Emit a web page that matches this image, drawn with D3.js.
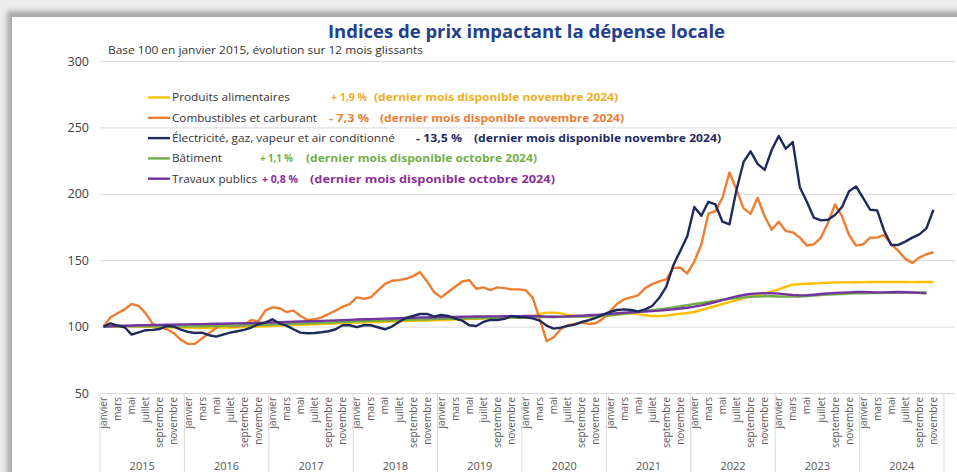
<!DOCTYPE html>
<html>
<head>
<meta charset="utf-8">
<script src="https://cdn.jsdelivr.net/npm/d3@7"></script>
<style>
    body { margin: 0; background: #e9e9e9; }
    svg { display: block; font-family: "Open Sans", sans-serif; }
</style>
</head>
<body>
<svg id="chart" width="957" height="472"></svg>
<script>
const years = [2015, 2016, 2017, 2018, 2019, 2020, 2021, 2022, 2023, 2024];
const months = ["janvier", "février", "mars", "avril", "mai", "juin", "juillet", "août", "septembre", "octobre", "novembre", "décembre"];
const yTicks = [50, 100, 150, 200, 250, 300];

// indices base 100 janvier 2015 (janv. 2015 -> nov. 2024)
const alimentaires = [
    100, 100.2, 100.4, 100.3, 100.2, 100, 99.8, 99.6, 99.5, 99.4, 99.3, 99.3,
    99.2, 99.1, 99, 99, 99.1, 99.2, 99.3, 99.5, 99.7, 99.9, 100, 100.2,
    100.5, 100.8, 101, 101.2, 101.3, 101.5, 101.7, 102, 102.2, 102.4, 102.6, 102.8,
    103, 103.2, 103.3, 103.5, 103.6, 103.8, 104, 104.1, 104.3, 104.5, 104.6, 104.8,
    105, 105.2, 105.4, 105.5, 105.7, 105.9, 106, 106.2, 106.3, 106.5, 106.6, 106.8,
    107, 107.5, 109.5, 110.5, 110.5, 110, 108.8, 108.3, 108, 107.8, 107.6, 107.5,
    108.5, 109.3, 109.7, 110, 109.5, 108.5, 108, 108, 108.3, 109, 109.7, 110.2,
    111, 112.5, 114, 115.5, 117, 118.5, 120, 121.5, 122.5, 123.5, 125, 126.5,
    128, 130, 131.5, 132, 132.3, 132.5, 132.7, 133, 133.2, 133.3, 133.3, 133.4,
    133.5, 133.6, 133.6, 133.7, 133.6, 133.7, 133.6, 133.5, 133.6, 133.6, 133.7
];
const combustibles = [
    100, 107, 110, 113, 117, 115.5, 110, 102, 99.5, 98, 95, 90,
    87, 87, 91, 95, 99, 102, 100, 100, 101, 105, 104, 112,
    114.5, 114, 111, 112, 108, 105, 105.5, 107, 109.5, 112, 115, 117,
    122, 121, 122, 127, 132, 134.5, 135, 136, 138, 141, 134, 126,
    122, 126, 130, 134, 135, 128.5, 129.5, 127.5, 129.5, 129, 128, 128,
    127.5, 122, 106, 89, 92, 98, 101, 102, 103, 102, 102.5, 106,
    111.5, 117, 120.5, 122, 123.5, 129, 132, 134, 135.5, 144, 144.5, 140,
    149, 162, 185, 187, 197, 216, 203, 189, 185, 197, 183, 173,
    179, 172, 171, 167, 161, 162, 167, 178, 192, 183, 169, 161,
    162, 167, 167, 169, 162, 157, 151, 148, 152, 154.5, 156
];
const electricite = [
    100, 102.5, 100.8, 99.5, 94, 95.7, 97.3, 97.5, 98.2, 100.5, 100, 97.8,
    96, 95.2, 95.5, 93.5, 92.5, 94, 95.5, 96.5, 97.5, 99.3, 101.8, 103,
    105.5, 102.5, 100.7, 98, 95.5, 95, 95.2, 95.7, 96.5, 98, 101, 101,
    99.6, 101, 101, 99.5, 98, 100, 103.5, 106.5, 108, 109.5, 109.5, 107.5,
    108.8, 108, 106, 104.5, 101, 100.5, 103.5, 105, 105, 105.8, 108, 107,
    107, 106.2, 104.5, 100.8, 98.5, 99.2, 100.5, 101.5, 103.5, 104.8, 106.5, 109,
    111, 112.5, 113, 112.5, 111.5, 113, 115.5, 121.5, 130, 146, 157, 168,
    190, 183.5, 194, 192, 179, 177, 203, 224, 232, 222.5, 218, 233,
    243.5, 234, 239, 205, 194, 182, 180, 180.5, 184, 190, 202, 205.5,
    197, 188, 187.5, 172, 161.5, 161.5, 164, 167, 169.5, 174, 188
];
// janv. 2015 -> oct. 2024
const batiment = [
    100, 100.1, 100.2, 100.2, 100.2, 100.2, 100.2, 100.2, 100.2, 100.2, 100.2, 100.2,
    100.2, 100.2, 100.3, 100.4, 100.5, 100.6, 100.7, 100.8, 100.9, 101, 101.1, 101.3,
    101.5, 101.7, 101.9, 102.1, 102.3, 102.5, 102.7, 102.9, 103.1, 103.3, 103.5, 103.7,
    103.9, 104.1, 104.3, 104.5, 104.6, 104.8, 105, 105.1, 105.3, 105.4, 105.5, 105.6,
    105.8, 105.9, 106, 106.1, 106.2, 106.3, 106.4, 106.5, 106.6, 106.7, 106.8, 106.9,
    107, 107.1, 107.2, 107.2, 107.2, 107.3, 107.4, 107.5, 107.6, 107.8, 108, 108.2,
    108.5, 109, 109.6, 110.3, 111, 111.7, 112.3, 113, 113.7, 114.5, 115.3, 116.2,
    117, 117.8, 118.6, 119.4, 120.2, 120.9, 121.5, 122, 122.4, 122.7, 122.8, 122.8,
    122.7, 122.6, 122.6, 122.7, 123, 123.4, 123.8, 124.1, 124.4, 124.6, 124.8, 125,
    125.1, 125.2, 125.3, 125.4, 125.5, 125.6, 125.6, 125.7, 125.7, 125.7
];
const travauxPublics = [
    100, 100.2, 100.4, 100.6, 100.8, 101, 101.1, 101.2, 101.3, 101.4, 101.5, 101.6,
    101.7, 101.8, 101.9, 102, 102.1, 102.2, 102.3, 102.4, 102.5, 102.6, 102.8, 103,
    103.1, 103.3, 103.5, 103.6, 103.8, 104, 104.1, 104.3, 104.5, 104.7, 104.9, 105.1,
    105.3, 105.5, 105.6, 105.8, 106, 106.1, 106.3, 106.5, 106.6, 106.8, 106.9, 107,
    107.1, 107.2, 107.3, 107.4, 107.5, 107.6, 107.6, 107.7, 107.7, 107.8, 107.8, 107.9,
    108, 108, 107.8, 107.5, 107.4, 107.5, 107.7, 108, 108.2, 108.5, 108.8, 109.2,
    109.6, 110, 110.4, 110.8, 111.1, 111.4, 111.7, 112, 112.5, 113, 113.6, 114.2,
    115, 116, 117.2, 118.5, 120, 121.5, 122.8, 123.8, 124.5, 125, 125.2, 125.1,
    124.8, 124.3, 123.8, 123.5, 123.6, 124, 124.5, 125, 125.3, 125.6, 125.8, 126,
    126, 125.9, 125.8, 125.8, 125.9, 126, 125.9, 125.7, 125.4, 125
];

const seriesNames = ["Produits alimentaires", "Combustibles et carburant", "Électricité, gaz, vapeur et air conditionné", "Bâtiment", "Travaux publics"];
const seriesChanges = ["+ 1,9 %", "- 7,3 %", "- 13,5 %", "+ 1,1 %", "+ 0,8 %"];
const seriesNotes = [
    "(dernier mois disponible novembre 2024)",
    "(dernier mois disponible novembre 2024)",
    "(dernier mois disponible novembre 2024)",
    "(dernier mois disponible octobre 2024)",
    "(dernier mois disponible octobre 2024)"
];

const colors = {
    lines: ["#ffc000", "#ed7d31", "#1f2a5c", "#70ad47", "#7434a0"],
    texts: ["#f0ad1e", "#ee7d33", "#1e2a5e", "#72b048", "#8a2f98"],
    title: "#22408e",
    grid: "#d9d9d9",
    label: "#404040",
};

// legend layout: [x de la variation, largeur, x de la note, largeur]
const legendPos = [
    [331, 36, 374, 244],
    [329, 40, 380, 244],
    [416, 46, 474, 247],
    [260, 33, 306, 231],
    [262, 36, 310, 245],
];

const svg = d3.select("#chart");
const fit = (sel, w) => sel.attr("textLength", w).attr("lengthAdjust", "spacingAndGlyphs");

// cadre / ombre
const defs = svg.append("defs");
defs.append("filter").attr("id", "shadow")
    .attr("x", "-5%").attr("y", "-5%").attr("width", "110%").attr("height", "110%")
    .append("feGaussianBlur").attr("stdDeviation", 2.5);
svg.append("rect").attr("width", 957).attr("height", 472).attr("fill", "#ececec");
svg.append("rect").attr("x", 7).attr("y", 11).attr("width", 980).attr("height", 480)
    .attr("fill", "#a9a9a9").attr("filter", "url(#shadow)");
svg.append("rect").attr("x", 12).attr("y", 17).attr("width", 960).attr("height", 470).attr("fill", "#fff");

const categories = years.flatMap((yr) => months.map((m) => ({ year: yr, month: m, key: `${m} ${yr}` })));

const x = d3.scaleBand().domain(categories.map((d) => d.key)).range([100, 944]);
const y = d3.scaleLinear().domain([50, 300]).range([393, 61]);
const cx = (i) => x(categories[i].key) + x.bandwidth() / 2;

// grille horizontale + étiquettes
const yAxis = svg.append("g")
    .attr("transform", "translate(100,0)")
    .call(d3.axisLeft(y).tickValues(yTicks).tickSize(-855).tickFormat(d3.format("d")));
yAxis.select(".domain").remove();
yAxis.selectAll(".tick line").attr("stroke", colors.grid).attr("stroke-width", 1);
yAxis.selectAll(".tick text")
    .attr("x", -11)
    .attr("fill", colors.label)
    .style("font-size", "12.5px")
    .style("font-family", "Open Sans, sans-serif");

// axe des mois
const monthTicks = categories.filter((d, i) => i % 2 === 0).map((d) => d.key);
const xAxis = svg.append("g")
    .attr("transform", "translate(0,393)")
    .call(d3.axisBottom(x).tickValues(monthTicks).tickSize(0).tickFormat((k) => k.split(" ")[0]));
xAxis.select(".domain").remove();
xAxis.selectAll(".tick text")
    .attr("transform", "rotate(-90)")
    .attr("text-anchor", "end")
    .attr("x", -4)
    .attr("y", 0)
    .attr("dy", "0.36em")
    .attr("fill", "#5a5a5a")
    .style("font-size", "10px")
    .style("font-family", "Open Sans, sans-serif");

// séparateurs d'années
const yearBounds = years.map((yr) => x(`janvier ${yr}`)).concat([x.range()[1]]);
svg.append("g").selectAll("line")
    .data(yearBounds)
    .join("line")
    .attr("x1", (d) => d).attr("x2", (d) => d)
    .attr("y1", 393).attr("y2", 472)
    .attr("stroke", colors.grid);

svg.append("g").selectAll("text")
    .data(years)
    .join("text")
    .attr("x", (d) => x(`janvier ${d}`) + x.bandwidth() * 6)
    .attr("y", 470)
    .attr("text-anchor", "middle")
    .attr("fill", "#555")
    .style("font-size", "11px")
    .text((d) => d);

// courbes
const allSeries = [alimentaires, combustibles, batiment, travauxPublics, electricite];
const seriesColor = [colors.lines[0], colors.lines[1], colors.lines[3], colors.lines[4], colors.lines[2]];
const line = d3.line().x((d, i) => cx(i)).y((d) => y(d));

svg.append("g").selectAll("path")
    .data(allSeries)
    .join("path")
    .attr("d", line)
    .attr("fill", "none")
    .attr("stroke", (d, i) => seriesColor[i])
    .attr("stroke-width", 2.4)
    .attr("stroke-linejoin", "round");

// titres
fit(svg.append("text")
    .attr("x", 526.5)
    .attr("y", 38)
    .attr("text-anchor", "middle")
    .attr("fill", colors.title)
    .style("font-size", "18px")
    .style("font-weight", 700)
    .text("Indices de prix impactant la dépense locale"), 397);

fit(svg.append("text")
    .attr("x", 108)
    .attr("y", 54)
    .attr("fill", "#333")
    .style("font-size", "11px")
    .text("Base 100 en janvier 2015, évolution sur 12 mois glissants"), 315);

// légende
const legendW = [118, 145, 223, 50, 85];
const legend = svg.append("g").selectAll("g")
    .data(seriesNames)
    .join("g")
    .attr("transform", (d, i) => `translate(0,${97.5 + i * 20.3})`);

legend.append("line")
    .attr("x1", 148).attr("x2", 170)
    .attr("stroke", (d, i) => colors.lines[i])
    .attr("stroke-width", 2.4);

legend.append("text")
    .attr("x", 172)
    .attr("dy", "0.36em")
    .attr("fill", "#333")
    .style("font-size", "11px")
    .attr("textLength", (d, i) => legendW[i])
    .attr("lengthAdjust", "spacingAndGlyphs")
    .text((d) => d);

legend.append("text")
    .attr("x", (d, i) => legendPos[i][0])
    .attr("dy", "0.36em")
    .attr("fill", (d, i) => colors.texts[i])
    .style("font-size", "11px")
    .style("font-weight", 700)
    .attr("textLength", (d, i) => legendPos[i][1])
    .attr("lengthAdjust", "spacingAndGlyphs")
    .text((d, i) => seriesChanges[i]);

legend.append("text")
    .attr("x", (d, i) => legendPos[i][2])
    .attr("dy", "0.36em")
    .attr("fill", (d, i) => colors.texts[i])
    .style("font-size", "11px")
    .style("font-weight", 700)
    .attr("textLength", (d, i) => legendPos[i][3])
    .attr("lengthAdjust", "spacingAndGlyphs")
    .text((d, i) => seriesNotes[i]);
</script>
</body>
</html>
